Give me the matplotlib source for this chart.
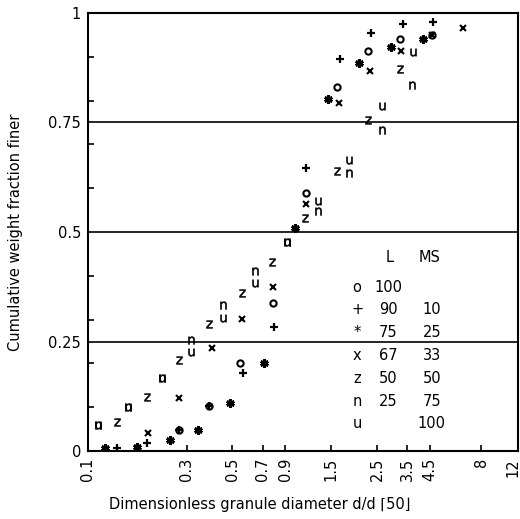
import matplotlib
matplotlib.use("Agg")
import matplotlib.pyplot as plt
import matplotlib.transforms as mtransforms
from matplotlib.ticker import FixedLocator, NullLocator

# cumulative weight fraction finer vs d/d50, one series per L/MS blend
o_x = [0.275, 0.384, 0.542, 0.783, 1.13, 1.61, 2.25, 3.22, 4.59]
o_y = [0.048, 0.103, 0.201, 0.338, 0.59, 0.831, 0.913, 0.941, 0.950]

plus_x = [0.138, 0.193, 0.275, 0.384, 0.561, 0.792, 1.14, 1.65, 2.33, 3.33, 4.64]
plus_y = [0.007, 0.018, 0.048, 0.103, 0.178, 0.283, 0.646, 0.895, 0.954, 0.975, 0.979]

star_x = [0.121, 0.1725, 0.249, 0.340, 0.485, 0.709, 1.0, 1.443, 2.04, 2.91, 4.15]
star_y = [0.007, 0.009, 0.025, 0.048, 0.110, 0.201, 0.509, 0.804, 0.886, 0.922, 0.941]

x_x = [0.195, 0.275, 0.397, 0.555, 0.783, 1.13, 1.63, 2.30, 3.25, 4.59, 6.48]
x_y = [0.041, 0.121, 0.235, 0.301, 0.374, 0.565, 0.795, 0.868, 0.913, 0.950, 0.966]

z_x = [0.138, 0.193, 0.275, 0.384, 0.555, 0.775, 1.118, 1.595, 2.253, 3.216]
z_y = [0.066, 0.123, 0.208, 0.290, 0.361, 0.432, 0.532, 0.639, 0.756, 0.872]

n_x = [0.112, 0.156, 0.228, 0.314, 0.449, 0.641, 0.915, 1.292, 1.823, 2.633, 3.675]
n_y = [0.059, 0.100, 0.167, 0.253, 0.333, 0.411, 0.477, 0.548, 0.635, 0.733, 0.836]

u_x = [0.112, 0.156, 0.228, 0.314, 0.449, 0.641, 0.915, 1.292, 1.823, 2.633, 3.716]
u_y = [0.059, 0.100, 0.167, 0.226, 0.304, 0.384, 0.477, 0.571, 0.664, 0.788, 0.911]

# legend table
leg_symbols = ["o", "+", "*", "x", "z", "n", "u"]
leg_L = ["100", "90", "75", "67", "50", "25", ""]
leg_MS = ["", "10", "25", "33", "50", "75", "100"]

x_ticks = [0.1, 0.3, 0.5, 0.7, 0.9, 1.5, 2.5, 3.5, 4.5, 8, 12]
x_tick_labels = ["0.1", "0.3", "0.5", "0.7", "0.9", "1.5", "2.5", "3.5", "4.5", "8", "12"]
y_ticks = [0, 0.25, 0.5, 0.75, 1]
y_tick_labels = ["0", "0.25", "0.5", "0.75", "1"]
y_minor = [0.1, 0.2, 0.3, 0.4, 0.6, 0.7, 0.8, 0.9]

FS = 10.5

fig = plt.figure(figsize=(5.2, 5.19), dpi=100)
ax = fig.add_axes([0.169, 0.131, 0.827, 0.844])
ax.set_xscale("log")
ax.set_xlim(0.1, 12)
ax.set_ylim(0, 1)

kw = dict(linestyle="none", color="black")
ax.plot(o_x, o_y, marker="o", markersize=4.5, markerfacecolor="none", markeredgewidth=1.5, **kw)
ax.plot(plus_x, plus_y, marker="+", markersize=6, markeredgewidth=1.6, **kw)
ax.plot(star_x, star_y, marker=(6, 2, 0), markersize=6, markeredgewidth=2.0, **kw)
ax.plot(x_x, x_y, marker="x", markersize=4.5, markeredgewidth=1.5, **kw)
ax.plot(z_x, z_y, marker=r"$\mathsf{z}$", markersize=5.5, markeredgewidth=0.4, **kw)
ax.plot(n_x, n_y, marker=r"$\mathsf{n}$", markersize=5.5, markeredgewidth=0.4, **kw)
ax.plot(u_x, u_y, marker=r"$\mathsf{u}$", markersize=5.5, markeredgewidth=0.4, **kw)

ax.xaxis.set_major_locator(FixedLocator(x_ticks))
ax.xaxis.set_minor_locator(NullLocator())
ax.set_xticklabels(x_tick_labels, rotation=90, fontsize=FS)
ax.tick_params(axis="x", direction="in", length=4, width=1.2, pad=5)
# keep the last label inside the canvas
last = ax.get_xticklabels()[-1]
last.set_transform(last.get_transform() + mtransforms.ScaledTranslation(-5 / 100, 0, fig.dpi_scale_trans))

ax.set_yticks(y_ticks)
ax.set_yticklabels(y_tick_labels, fontsize=FS)
ax.yaxis.set_minor_locator(FixedLocator(y_minor))
ax.tick_params(axis="y", which="major", length=0, pad=5)
ax.tick_params(axis="y", which="minor", direction="in", length=4, width=1.2)

ax.grid(axis="y", which="major", color="black", linewidth=1.2)
for side in ax.spines.values():
    side.set_linewidth(1.5)

ax.set_ylabel("Cumulative weight fraction finer", fontsize=FS)
ax.yaxis.set_label_coords(-0.152, 0.5)
ax.set_xlabel("Dimensionless granule diameter d/d \u230850\u230b", fontsize=FS)
ax.xaxis.set_label_coords(0.40, -0.105)

# legend drawn as a text table
ax.text(0.702, 0.441, "L", fontsize=FS, ha="center", va="center", transform=ax.transAxes)
ax.text(0.795, 0.441, "MS", fontsize=FS, ha="center", va="center", transform=ax.transAxes)
row_y = 0.374
for sym, l_val, ms_val in zip(leg_symbols, leg_L, leg_MS):
    ax.text(0.626, row_y, sym, fontsize=FS, ha="center", va="center", transform=ax.transAxes)
    ax.text(0.698, row_y, l_val, fontsize=FS, ha="center", va="center", transform=ax.transAxes)
    ax.text(0.80, row_y, ms_val, fontsize=FS, ha="center", va="center", transform=ax.transAxes)
    row_y -= 0.052

fig.savefig("out.png", dpi=100)
